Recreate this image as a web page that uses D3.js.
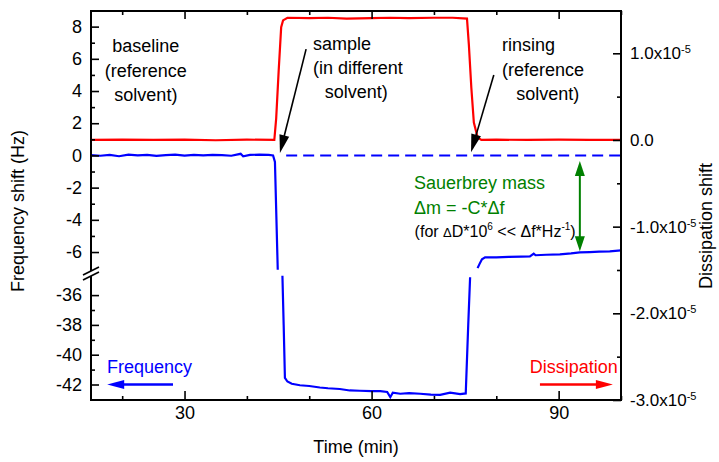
<!DOCTYPE html>
<html>
<head>
<meta charset="utf-8">
<script src="https://cdn.jsdelivr.net/npm/d3@7"></script>
<style>
body { margin: 0; background: #fff; }
text { font-family: "Liberation Sans", Arial, sans-serif; }
</style>
</head>
<body>
<svg id="chart" width="719" height="462"></svg>
<script>
// frequency shift (Hz) vs time (min)
var blueFreq = [
    [15, 0.02], [16.5, -0.02], [18, 0.03], [19.5, -0.05], [21, 0.05], [22.5, 0.0],
    [24, 0.04], [25.5, -0.03], [27, 0.02], [28.5, 0.05], [30, -0.01], [31.5, 0.03],
    [33, 0.0], [34.5, 0.04], [36, 0.02], [37.5, -0.02], [39, 0.1], [39.4, -0.05],
    [40.5, 0.03], [42, 0.05], [43.5, 0.03], [44.2, 0.0], [44.5, -0.4], [44.95, -7.1],
    [45.7, -34.7], [45.9, -38], [46.1, -41.55], [46.5, -41.8], [47.2, -41.95],
    [48.5, -42.05], [50, -42.1], [51.7, -42.2], [53, -42.25], [54.9, -42.3],
    [56.5, -42.4], [58.1, -42.42], [60, -42.45], [61.4, -42.45], [62.5, -42.5],
    [63.0, -42.85], [63.4, -42.55], [64.6, -42.62], [66, -42.58], [67.8, -42.62],
    [69.5, -42.68], [71.0, -42.7], [72.6, -42.55], [74.2, -42.65], [75.1, -42.6],
    [75.5, -38], [75.8, -34.8],
    [77.0, -7.0], [77.3, -6.75], [77.7, -6.45], [78.2, -6.33], [80, -6.33], [82, -6.3],
    [84, -6.28], [85.4, -6.27], [86.0, -6.1], [86.3, -6.2], [88, -6.17], [90.2, -6.14],
    [92, -6.08], [93.4, -6.02], [95, -6.0], [96.5, -5.98], [98.2, -5.96], [100, -5.9]
];

// dissipation shift in units of 1e-5
var redDiss = [
    [15, 0.0], [20, 0.005], [25, 0.0], [30, 0.003], [35, -0.003], [40, 0.004],
    [44.4, 0.0], [44.7, 0.25], [45.1, 0.8], [45.5, 1.3], [45.8, 1.38], [46.5, 1.41],
    [50, 1.405], [53, 1.41], [56, 1.4], [60, 1.405], [63, 1.41], [66, 1.405],
    [70, 1.41], [73, 1.41], [75.3, 1.4], [75.6, 1.1], [76.0, 0.6], [76.4, 0.2],
    [77.0, 0.03], [77.6, 0.0], [80, 0.004], [85, 0.0], [90, 0.003], [95, 0.0], [100, 0.0]
];

// reference level (baseline frequency) drawn dashed
var refLine = [[46.3, 0], [100, 0]];

var timeTicks = [30, 60, 90];
var timeMinor = [20, 40, 50, 70, 80, 100];
var freqTicksTop = [8, 6, 4, 2, 0, -2, -4, -6];
var freqMinorTop = [7, 5, 3, 1, -1, -3, -5];
var freqTicksBot = [-36, -38, -40, -42];
var freqMinorBot = [-37, -39, -41];
var dissTicks = [1, 0, -1, -2, -3];
var dissMinor = [0.5, -0.5, -1.5, -2.5];

var notes = [
    {text: "baseline", t: 23.8, f: 6.45, anchor: "middle"},
    {text: "(reference", t: 23.8, f: 4.9, anchor: "middle"},
    {text: "solvent)", t: 23.8, f: 3.35, anchor: "middle"},
    {text: "sample", t: 50.6, f: 6.55, anchor: "start"},
    {text: "(in different", t: 50.6, f: 5.06, anchor: "start"},
    {text: "solvent)", t: 52.5, f: 3.57, anchor: "start"},
    {text: "rinsing", t: 80.9, f: 6.49, anchor: "start"},
    {text: "(reference", t: 80.9, f: 4.94, anchor: "start"},
    {text: "solvent)", t: 83.2, f: 3.45, anchor: "start"}
];

var svg = d3.select("#chart");
var pLeft = 91, pRight = 621, pTop = 11, pBottom = 400, yBreak = 272;

var x = d3.scaleLinear().domain([15, 100]).range([pLeft, pRight]);
var yTop = d3.scaleLinear().domain([-7.24, 8.97]).range([yBreak, pTop]);
var yBot = d3.scaleLinear().domain([-43.04, -34.45]).range([pBottom, yBreak]);
var yD = d3.scaleLinear().domain([-3.0, 1.488]).range([pBottom, pTop]);

svg.append("clipPath").attr("id", "clip")
    .append("rect").attr("x", pLeft).attr("y", pTop)
    .attr("width", pRight - pLeft).attr("height", pBottom - pTop);

var plot = svg.append("g").attr("clip-path", "url(#clip)");

// frequency, split across the axis break
var lineTop = d3.line()
    .defined(function(d) { return d[1] >= yTop.domain()[0]; })
    .x(function(d) { return x(d[0]); })
    .y(function(d) { return yTop(d[1]); });
var lineBot = d3.line()
    .defined(function(d) { return d[1] <= yBot.domain()[1]; })
    .x(function(d) { return x(d[0]); })
    .y(function(d) { return yBot(d[1]); });
var lineD = d3.line()
    .x(function(d) { return x(d[0]); })
    .y(function(d) { return yD(d[1]); });

plot.append("path").datum(redDiss)
    .attr("d", lineD).attr("fill", "none")
    .attr("stroke", "#ff0000").attr("stroke-width", 2.2);

plot.append("path").datum(refLine)
    .attr("d", lineTop).attr("fill", "none")
    .attr("stroke", "#0000ff").attr("stroke-width", 2)
    .attr("stroke-dasharray", "11,6");

plot.append("path").datum(blueFreq)
    .attr("d", lineTop).attr("fill", "none")
    .attr("stroke", "#0000ff").attr("stroke-width", 2.2);
plot.append("path").datum(blueFreq)
    .attr("d", lineBot).attr("fill", "none")
    .attr("stroke", "#0000ff").attr("stroke-width", 2.2);

// axes, ticks pointing inward
function styleAxis(g, size) {
    g.select(".domain").remove();
    g.attr("font-family", null).attr("font-size", size);
    g.selectAll("line").attr("stroke", "#000").attr("stroke-width", 1.6);
    g.selectAll("text").attr("fill", "#000");
}
var plain = function(d) { return String(d); };

svg.append("g").attr("transform", "translate(0," + pBottom + ")")
    .call(d3.axisBottom(x).tickValues(timeTicks).tickSize(-9).tickPadding(6).tickFormat(plain))
    .call(styleAxis, 18);
svg.append("g").attr("transform", "translate(0," + pBottom + ")")
    .call(d3.axisBottom(x).tickValues(timeMinor).tickSize(-4).tickFormat(""))
    .call(styleAxis, 18);
svg.append("g").attr("transform", "translate(0," + pTop + ")")
    .call(d3.axisTop(x).tickValues(timeTicks).tickSize(-8).tickFormat(""))
    .call(styleAxis, 18);
svg.append("g").attr("transform", "translate(0," + pTop + ")")
    .call(d3.axisTop(x).tickValues(timeMinor).tickSize(-4).tickFormat(""))
    .call(styleAxis, 18);

[[yTop, freqTicksTop, freqMinorTop], [yBot, freqTicksBot, freqMinorBot]].forEach(function(a) {
    svg.append("g").attr("transform", "translate(" + pLeft + ",0)")
        .call(d3.axisLeft(a[0]).tickValues(a[1]).tickSize(-8).tickPadding(9).tickFormat(plain))
        .call(styleAxis, 18);
    svg.append("g").attr("transform", "translate(" + pLeft + ",0)")
        .call(d3.axisLeft(a[0]).tickValues(a[2]).tickSize(-4).tickFormat(""))
        .call(styleAxis, 18);
});

var rAxis = svg.append("g").attr("transform", "translate(" + pRight + ",0)")
    .call(d3.axisRight(yD).tickValues(dissTicks).tickSize(-8).tickPadding(9))
    .call(styleAxis, 17);
rAxis.selectAll("text").each(function(d) {
    var t = d3.select(this).text("");
    if (d === 0) { t.text("0.0"); return; }
    t.append("tspan").text(d.toFixed(1) + "x10");
    t.append("tspan").attr("dy", "-0.55em").attr("font-size", 11).text("-5");
});
svg.append("g").attr("transform", "translate(" + pRight + ",0)")
    .call(d3.axisRight(yD).tickValues(dissMinor).tickSize(-4).tickFormat(""))
    .call(styleAxis, 17);

// frame
svg.append("rect").attr("x", pLeft).attr("y", pTop)
    .attr("width", pRight - pLeft).attr("height", pBottom - pTop)
    .attr("fill", "none").attr("stroke", "#000").attr("stroke-width", 2);

// axis break mark
svg.append("polygon")
    .attr("points", [[pLeft - 6, yBreak + 2], [pLeft + 6, yBreak - 4], [pLeft + 6, yBreak + 1], [pLeft - 6, yBreak + 7]].join(" "))
    .attr("fill", "#fff");
[0, 5].forEach(function(o) {
    svg.append("line")
        .attr("x1", pLeft - 8).attr("y1", yBreak + 3 + o)
        .attr("x2", pLeft + 8).attr("y2", yBreak - 5 + o)
        .attr("stroke", "#000").attr("stroke-width", 1.6);
});

// axis titles
svg.append("text").attr("x", 356).attr("y", 453).attr("text-anchor", "middle")
    .attr("font-size", 18).text("Time (min)");
svg.append("text").attr("transform", "translate(18,211) rotate(-90)")
    .attr("text-anchor", "middle").attr("dominant-baseline", "central")
    .attr("font-size", 18).text("Frequency shift (Hz)");
svg.append("text").attr("transform", "translate(706,226) rotate(-90)")
    .attr("text-anchor", "middle").attr("dominant-baseline", "central")
    .attr("font-size", 18).text("Dissipation shift");

// annotations
svg.selectAll(".note").data(notes).enter()
    .append("text").attr("class", "note")
    .attr("x", function(d) { return x(d.t); })
    .attr("y", function(d) { return yTop(d.f); })
    .attr("text-anchor", function(d) { return d.anchor; })
    .attr("font-size", 18).attr("fill", "#000")
    .text(function(d) { return d.text; });

function arrowHead(x1, y1, x2, y2, len, w, color) {
    var a = Math.atan2(y2 - y1, x2 - x1);
    var bx = x2 - len * Math.cos(a), by = y2 - len * Math.sin(a);
    var px = Math.sin(a) * w / 2, py = -Math.cos(a) * w / 2;
    svg.append("polygon")
        .attr("points", [[x2, y2], [bx + px, by + py], [bx - px, by - py]].join(" "))
        .attr("fill", color);
}
function arrow(x1, y1, x2, y2, len, w, color, sw, both) {
    var a = Math.atan2(y2 - y1, x2 - x1);
    var sx = both ? x1 + (len - 2) * Math.cos(a) : x1, sy = both ? y1 + (len - 2) * Math.sin(a) : y1;
    svg.append("line")
        .attr("x1", sx).attr("y1", sy)
        .attr("x2", x2 - (len - 2) * Math.cos(a)).attr("y2", y2 - (len - 2) * Math.sin(a))
        .attr("stroke", color).attr("stroke-width", sw);
    arrowHead(x1, y1, x2, y2, len, w, color);
    if (both) arrowHead(x2, y2, x1, y1, len, w, color);
}

arrow(x(49.5), yTop(6.6), x(45.3), yTop(0.15), 18, 10, "#000", 1.6);
arrow(x(79.6), yTop(5.0), x(75.95), yTop(0.2), 18, 10, "#000", 1.6);
arrow(x(93.4), yTop(-0.35), x(93.4), yTop(-5.95), 15, 10, "#008000", 2, true);

var g1 = svg.append("g").attr("fill", "#008000").attr("font-size", 18);
g1.append("text").attr("x", x(66.8)).attr("y", yTop(-2.08)).text("Sauerbrey mass");
g1.append("text").attr("x", x(66.8)).attr("y", yTop(-3.63)).text("\u0394m = -C*\u0394f");
var t3 = svg.append("text").attr("x", x(66.9)).attr("y", yTop(-5.06))
    .attr("font-size", 16).attr("fill", "#000");
t3.append("tspan").text("(for ");
t3.append("tspan").attr("font-size", 13).text("\u0394");
t3.append("tspan").text("D*10");
t3.append("tspan").attr("font-size", 10).attr("dy", -7).text("6");
t3.append("tspan").attr("dy", 7).text(" << \u0394f*Hz");
t3.append("tspan").attr("font-size", 10).attr("dy", -7).text("-1");
t3.append("tspan").attr("dy", 7).text(")");

// series labels with direction arrows
svg.append("text").attr("x", x(17.57)).attr("y", yBot(-41.23))
    .attr("font-size", 18).attr("fill", "#0000ff").text("Frequency");
arrow(x(28.15), yBot(-42), x(17.6), yBot(-42), 17, 9, "#0000ff", 2.5);
svg.append("text").attr("x", x(99.5)).attr("y", yBot(-41.23))
    .attr("text-anchor", "end")
    .attr("font-size", 18).attr("fill", "#ff0000").text("Dissipation");
arrow(x(87.0), yBot(-42), x(98.7), yBot(-42), 17, 9, "#ff0000", 2.5);
</script>
</body>
</html>
